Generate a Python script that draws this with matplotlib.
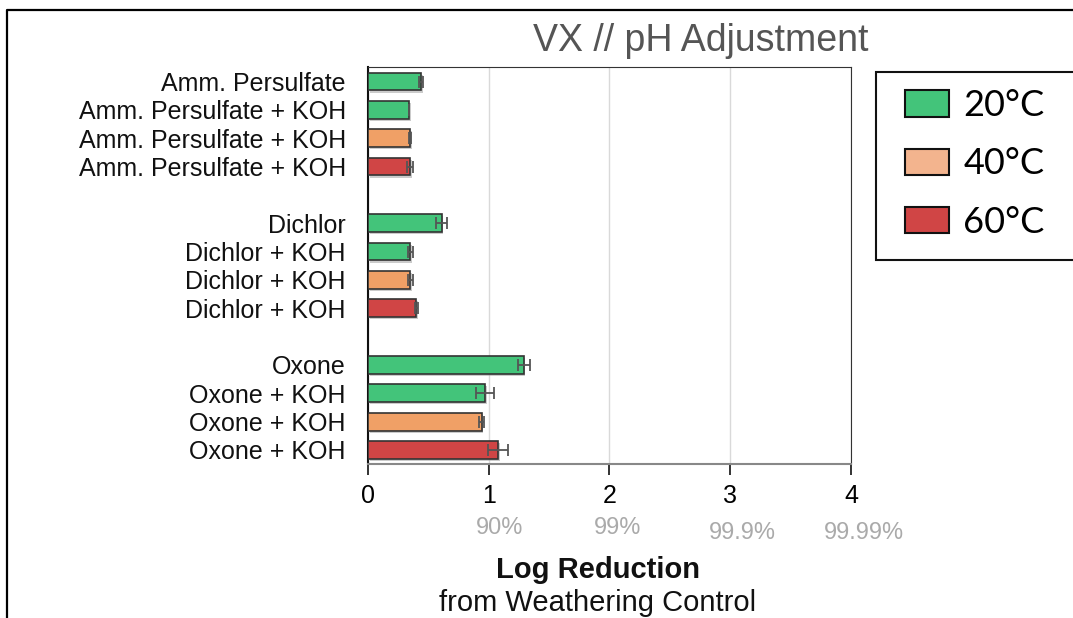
import matplotlib.pyplot as plt
import matplotlib.patheffects as pe
from matplotlib.patches import Rectangle, Patch
from matplotlib.lines import Line2D
import matplotlib.transforms as mtransforms

plt.rcParams["font.family"] = ["Liberation Sans", "DejaVu Sans"]

# data
labels = ["Amm. Persulfate", "Amm. Persulfate + KOH", "Amm. Persulfate + KOH", "Amm. Persulfate + KOH",
          "Dichlor", "Dichlor + KOH", "Dichlor + KOH", "Dichlor + KOH",
          "Oxone", "Oxone + KOH", "Oxone + KOH", "Oxone + KOH"]
temps = ["20", "20", "40", "60", "20", "20", "40", "60", "20", "20", "40", "60"]
log_red = [0.44, 0.34, 0.35, 0.35, 0.61, 0.35, 0.35, 0.40, 1.29, 0.97, 0.94, 1.08]
err = [0.017, 0.0, 0.010, 0.025, 0.047, 0.023, 0.020, 0.010, 0.050, 0.072, 0.018, 0.083]
ypos = [0, 1, 2, 3, 5, 6, 7, 8, 10, 11, 12, 13]
pct_labels = ["90%", "99%", "99.9%", "99.99%"]
legend_labels = ["20°C", "40°C", "60°C"]

bar_colors = {"20": "#43C47A", "40": "#F0A066", "60": "#D04545"}
legend_colors = ["#43C47A", "#F3B48E", "#D04545"]

fig = plt.figure(figsize=(10.73, 6.18), dpi=100)
ax = fig.add_axes([0.343, 0.249, 0.450, 0.642])

shadow = [pe.SimplePatchShadow(offset=(1.2, -1.5), shadow_rgbFace="#999999", alpha=0.5), pe.Normal()]
bars = ax.barh(ypos, log_red, height=0.63, color=[bar_colors[t] for t in temps],
               edgecolor="#333333", linewidth=1.2, zorder=3)
for b in bars:
    b.set_path_effects(shadow)
ax.errorbar(log_red, ypos, xerr=err, fmt="none", ecolor="#555555", elinewidth=1.3,
            capsize=4, capthick=1.3, zorder=4)

ax.set_xlim(0, 4)
ax.set_ylim(13.5, -0.5)
ax.set_yticks(ypos)
ax.set_yticklabels(labels, fontsize=18, color="#111111")
ax.tick_params(axis="y", length=0, pad=16)
ax.set_xticks([0, 1, 2, 3, 4])
ax.tick_params(axis="x", length=8, width=1.2, color="#111111", labelsize=18, pad=6)
ax.xaxis.grid(True, color="#d9d9d9", linewidth=1, zorder=0)
ax.set_axisbelow(True)

ax.spines["left"].set_color("#111111")
ax.spines["left"].set_linewidth(1.5)
ax.spines["top"].set_color("#333333")
ax.spines["right"].set_color("#333333")
ax.spines["bottom"].set_color("#888888")
ax.spines["bottom"].set_linewidth(1.5)

# percentage labels under the log ticks
trans = mtransforms.blended_transform_factory(ax.transData, fig.transFigure)
pct_x = [1.09, 2.07, 3.10, 4.11]
pct_y = [0.145, 0.145, 0.137, 0.137]
for lbl, xx, yy in zip(pct_labels, pct_x, pct_y):
    ax.text(xx, yy, lbl, transform=trans, ha="center", va="center", fontsize=17, color="#aaaaaa")

fig.text(0.557, 0.077, "Log Reduction", ha="center", va="center", fontsize=21, fontweight="bold", color="#111111")
fig.text(0.557, 0.024, "from Weathering Control", ha="center", va="center", fontsize=21, color="#111111")

fig.text(0.653, 0.933, "VX // pH Adjustment", ha="center", va="center", fontsize=27, color="#555555")

# legend with box running off the right edge
fig.add_artist(Rectangle((876 / 1073, 1 - 260 / 618), 0.25, 188 / 618, transform=fig.transFigure,
                         facecolor="white", edgecolor="#111111", linewidth=1.5))
handles = [Patch(facecolor=c, edgecolor="#111111", linewidth=1.5) for c in legend_colors]
fig.legend(handles, legend_labels, loc="upper left", bbox_to_anchor=(0.827, 0.885),
           frameon=False, prop={"family": "Lato", "size": 26}, handlelength=1.2,
           handleheight=0.75, handletextpad=0.4, labelspacing=0.70, borderpad=0)

# figure border (top and left)
fig.add_artist(Line2D([7 / 1073, 7 / 1073, 1.0], [0.0, 1 - 10 / 618, 1 - 10 / 618],
                      transform=fig.transFigure, color="black", linewidth=1.6))

fig.savefig("out.png", dpi=100)
